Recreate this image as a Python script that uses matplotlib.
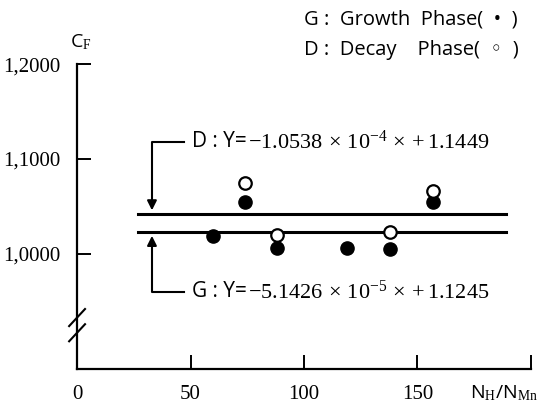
import matplotlib
matplotlib.use("Agg")
import matplotlib.pyplot as plt

plt.rcParams['mathtext.fontset'] = 'custom'
plt.rcParams['mathtext.rm'] = 'Liberation Serif'
plt.rcParams['mathtext.it'] = 'Liberation Serif'

# data
growth_x = [60, 74, 88, 119, 138, 157]
growth_y = [1.019, 1.055, 1.006, 1.006, 1.005, 1.055]
decay_x = [74, 88, 138, 157]
decay_y = [1.075, 1.020, 1.023, 1.066]

# fitted levels drawn as horizontal lines
d_level = 1.042
g_level = 1.023
line_x = [27, 189]

x_ticks = [0, 50, 100, 150, 200]
x_labels = ['0', '50', '100', '150', '']
y_ticks = [1.0, 1.1, 1.2]
y_labels = ['1,0000', '1,1000', '1,2000']

fig = plt.figure(figsize=(5.39, 4.08), dpi=100)
ax = fig.add_axes([0.143, 0.096, 0.842, 0.747])
ax.set_xlim(0, 200)
ax.set_ylim(0.879, 1.2)

for s in ['top', 'right']:
    ax.spines[s].set_visible(False)
for s in ['left', 'bottom']:
    ax.spines[s].set_linewidth(1.6)

ax.set_xticks(x_ticks)
ax.set_xticklabels(x_labels, family='Liberation Serif', fontsize=15)
ax.set_yticks(y_ticks)
ax.set_yticklabels(y_labels, family='Liberation Serif', fontsize=15)
ax.tick_params(axis='both', direction='in', length=10, width=1.4)
ax.tick_params(axis='x', pad=12)
ax.tick_params(axis='y', pad=12)

# horizontal fit lines
ax.plot(line_x, [d_level, d_level], color='black', lw=2.2)
ax.plot(line_x, [g_level, g_level], color='black', lw=2.2)

# points
ax.plot(growth_x, growth_y, 'o', color='black', ms=9.5, ls='none')
ax.plot(decay_x, decay_y, 'o', mfc='white', mec='black', mew=1.6, ms=9, ls='none')

# bracket arrows for the equations
ax.plot([33, 33, 47], [d_level + 0.012, 1.118, 1.118], color='black', lw=1.5)
ax.annotate('', xy=(33, d_level + 0.001), xytext=(33, d_level + 0.014),
            arrowprops=dict(arrowstyle='-|>', color='black', lw=1.5, mutation_scale=14))
ax.plot([33, 33, 47], [g_level - 0.012, 0.960, 0.960], color='black', lw=1.5)
ax.annotate('', xy=(33, g_level - 0.001), xytext=(33, g_level - 0.014),
            arrowprops=dict(arrowstyle='-|>', color='black', lw=1.5, mutation_scale=14))

eqs = [(1.118, 'D : Y=', r'$-$1.0538$\,\times\,$10$^{-4}$$\,\times\,$+$\,$1.1449'),
       (0.960, 'G : Y=', r'$-$5.1426$\,\times\,$10$^{-5}$$\,\times\,$+$\,$1.1245')]
for yy, head, tail in eqs:
    t1 = ax.text(50.5, yy, head, family='Open Sans', fontsize=15, va='center', ha='left')
    ax.annotate(tail, xy=(1, 0.5), xycoords=t1, xytext=(1, 0), textcoords='offset points',
                family='Liberation Serif', fontsize=16, va='center', ha='left')

# axis break marks
for dy in [0.0, 0.016]:
    ax.plot([-3.5, 3.5], [0.908 + dy, 0.926 + dy], color='black', lw=1.5,
            clip_on=False)

# axis titles
fig.text(70 / 539, 1 - 42 / 408, r'C$_\mathrm{F}$', family='Open Sans', fontsize=14,
         ha='left', va='center')
fig.text(470 / 539, 1 - 393 / 408, r'N$_\mathrm{H}$/N$_\mathrm{Mn}$', family='Open Sans',
         fontsize=14, ha='left', va='center')

# legend text
fig.text(304 / 539, 1 - 20 / 408, 'G :  Growth  Phase(  \u2022  )',
         family=['Open Sans', 'DejaVu Sans'], fontsize=14.5, ha='left', va='center')
fig.text(304 / 539, 1 - 50 / 408, 'D :  Decay    Phase(  \u25e6  )',
         family=['Open Sans', 'DejaVu Sans'], fontsize=14.5, ha='left', va='center')

fig.savefig('out.png', dpi=100)
